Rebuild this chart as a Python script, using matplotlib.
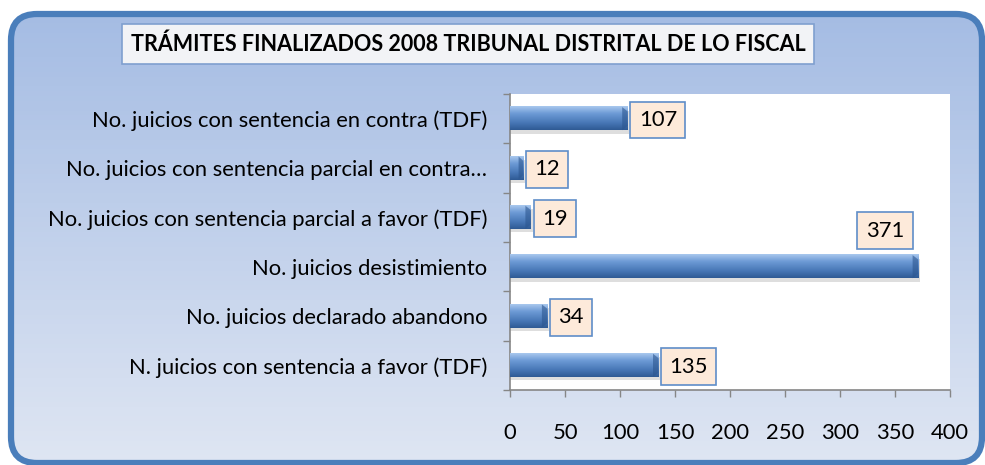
#!/usr/bin/env python3

import numpy as np
import matplotlib
matplotlib.use("Agg")
import matplotlib.pyplot as plt
from matplotlib.patches import FancyBboxPatch, Polygon, Rectangle
from matplotlib.colors import to_rgb

# Datos
categorias = [
  "N. juicios con sentencia a favor (TDF)",
  "No. juicios declarado abandono",
  "No. juicios desistimiento",
  "No. juicios con sentencia parcial a favor (TDF)",
  "No. juicios con sentencia parcial en contra…",
  "No. juicios con sentencia en contra (TDF)",
]
valores = [135, 34, 371, 19, 12, 107]
titulo = "TRÁMITES FINALIZADOS 2008 TRIBUNAL DISTRITAL DE LO FISCAL"
x_ticks = [0, 50, 100, 150, 200, 250, 300, 350, 400]

W, H = 985, 465
FONT = ["Lato", "DejaVu Sans"]
FS = 15.8

def grad(stops, n=96):
  """Vertical colour gradient (top to bottom) as an (n, 1, 3) image."""
  pos = np.array([p for p, _ in stops])
  cols = np.array([to_rgb(c) for _, c in stops])
  t = np.linspace(0, 1, n)
  out = np.stack([np.interp(t, pos, cols[:, k]) for k in range(3)], axis=-1)
  return out[:, None, :]

fig = plt.figure(figsize=(W / 100, H / 100), dpi=100)
fig.patch.set_facecolor("white")

# Marco redondeado con degradado de fondo
bg = fig.add_axes([0, 0, 1, 1], zorder=0)
bg.set_xlim(0, W)
bg.set_ylim(H, 0)
bg.axis("off")
frame = FancyBboxPatch((11, 14), W - 14, H - 16,
                       boxstyle="round,pad=0,rounding_size=26",
                       transform=bg.transData, facecolor="none",
                       edgecolor="#4A7EBB", linewidth=4.5)
img = bg.imshow(grad([(0, "#A3BBE3"), (1, "#DFE6F3")]), extent=(0, W, H, 0),
                aspect="auto", zorder=1)
img.set_clip_path(frame)
bg.add_patch(frame)
frame.set_zorder(3)

# Titulo en recuadro
fig.text(468 / W, 1 - 44 / H, titulo, ha="center", va="center",
         fontsize=15.5, fontweight="bold", family=FONT,
         bbox=dict(boxstyle="square,pad=0.42", facecolor="#F2F3F6",
                   edgecolor="#7F9FCF", linewidth=1.2))

# Area de grafico
ax = fig.add_axes([510 / W, 1 - 390 / H, 440 / W, 296 / H], zorder=2)
ax.set_facecolor("white")
y = np.arange(len(categorias))
h = 0.47
bar_grad = grad([(0, "#A9C8EE"), (0.3, "#6E9BD6"), (0.7, "#4777B6"), (1, "#2F5A94")])

for yi, v in zip(y, valores):
  # sombra
  ax.add_patch(Rectangle((0, yi - h / 2 - 0.07), v + 1.5, h, facecolor="#000000",
                         alpha=0.13, edgecolor="none", zorder=2))
  ax.imshow(bar_grad, extent=(0, v, yi - h / 2, yi + h / 2),
            aspect="auto", zorder=3, interpolation="bilinear")
  # extremo biselado
  d = min(5.0, v * 0.35)
  ax.add_patch(Polygon([(v - d, yi + h / 2), (v, yi + h / 2 - 0.09),
                        (v, yi - h / 2 + 0.09), (v - d, yi - h / 2)],
                       closed=True, facecolor="#2C568F", alpha=0.6,
                       edgecolor="none", zorder=4))
  lbl = dict(fontsize=FS, family=FONT, zorder=6,
             bbox=dict(boxstyle="square,pad=0.38", facecolor="#FDEADA",
                       edgecolor="#5F8DC8", linewidth=1.2))
  if v > 300:
    ax.annotate(str(v), (v, yi), xytext=(-10, 26), textcoords="offset points",
                ha="right", va="center", **lbl)
  else:
    ax.annotate(str(v), (v, yi), xytext=(8, -1), textcoords="offset points",
                ha="left", va="center", **lbl)

ax.set_xlim(0, 400)
ax.set_ylim(-0.5, len(categorias) - 0.5)
ax.set_xticks(x_ticks)
ax.set_xticklabels([str(t) for t in x_ticks], fontsize=FS, family=FONT)
ax.set_yticks(y)
ax.set_yticklabels(categorias, fontsize=FS, family=FONT)
ax.tick_params(axis="x", length=5, width=1, color="#868686", pad=19)
ax.tick_params(axis="y", length=0, pad=16.5)
# marcas del eje y entre categorias
ax.set_yticks(np.arange(-0.5, len(categorias)), minor=True)
ax.tick_params(axis="y", which="minor", length=5, width=1, color="#868686")
for s in ["top", "right"]:
  ax.spines[s].set_visible(False)
for s in ["left", "bottom"]:
  ax.spines[s].set_color("#868686")
  ax.spines[s].set_linewidth(1.2)

fig.savefig("out.png", dpi=100)
